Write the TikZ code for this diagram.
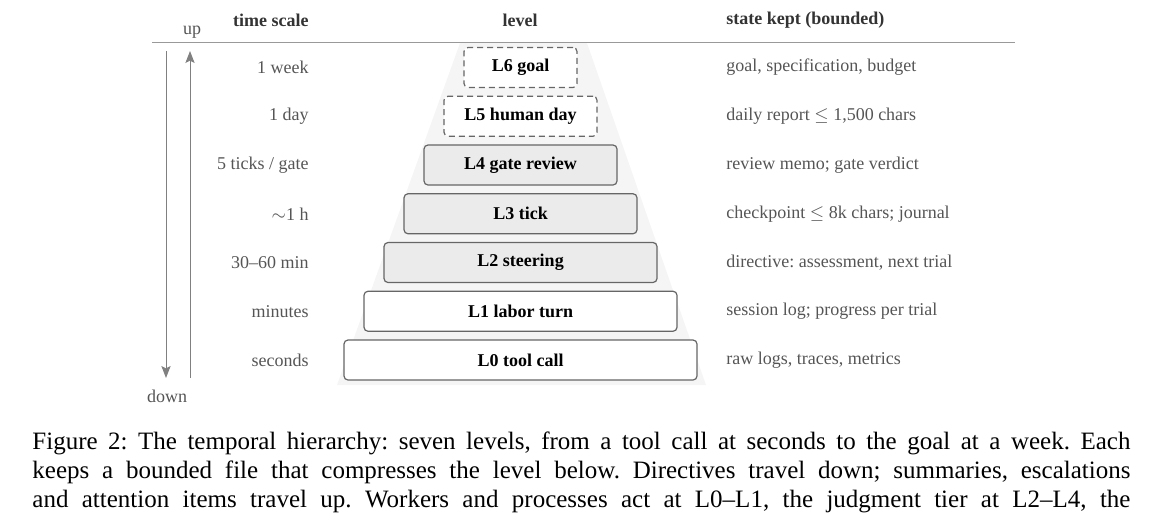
\documentclass[tikz,border=0pt]{standalone}
\usepackage{fontspec}
\setmainfont{Liberation Serif}
\usetikzlibrary{arrows.meta}
\definecolor{txtgray}{HTML}{555555}
\definecolor{hdrgray}{HTML}{333333}
\definecolor{linegray}{HTML}{808080}
\definecolor{rulegray}{HTML}{999999}
\definecolor{boxline}{HTML}{666666}
\definecolor{boxfill}{HTML}{EBEBEB}
\definecolor{trapfill}{HTML}{F5F5F5}
\frenchspacing
\begin{document}
\begin{tikzpicture}[x=0.5pt,y=-0.5pt,
  font=\fontsize{9}{11}\selectfont,
  lvl/.style={draw=boxline, line width=0.6pt, rounded corners=2pt, minimum height=20pt,
    inner sep=0pt, font=\fontsize{9}{11}\selectfont\bfseries, text=black},
  solidlvl/.style={lvl, fill=white},
  graylvl/.style={lvl, fill=boxfill},
  dashlvl/.style={lvl, fill=white, dash pattern=on 3pt off 2pt},
  tscale/.style={anchor=east, inner sep=0pt, text=txtgray},
  statetxt/.style={anchor=west, inner sep=0pt, text=txtgray},
  hdr/.style={inner sep=0pt, font=\fontsize{9}{11}\selectfont\bfseries, text=hdrgray},
  dirlbl/.style={inner sep=0pt, text=txtgray},
  flow/.style={draw=linegray, line width=0.5pt, -{Stealth[length=6pt,width=4.6pt,inset=1.2pt]}},
  captxt/.style={anchor=base west, inner sep=0pt, font=\fontsize{12.5}{14.5}\selectfont, text=black}
]
\useasboundingbox (0,0) rectangle (1160,515);

% background trapezoid
\fill[trapfill] (460,43) -- (587,43) -- (706,385) -- (337,385) -- cycle;

% header
\node[hdr, anchor=east] (hts) at (309,20) {time scale};
\node[hdr] (hlv) at (520,20) {level};
\node[hdr, anchor=west] (hst) at (726,20) {state kept (bounded)};
\draw[rulegray, line width=0.5pt] (152,42) -- (1015,42);

% levels
\node[dashlvl,  minimum width=56.5pt]  (L6) at (520.5,67.5)  {L6 goal};
\node[dashlvl,  minimum width=76.5pt]  (L5) at (520.5,116.25) {L5 human day};
\node[graylvl,  minimum width=96.5pt]  (L4) at (520.5,165)   {L4 gate review};
\node[graylvl,  minimum width=116.5pt] (L3) at (520.5,213.75) {L3 tick};
\node[graylvl,  minimum width=136.5pt] (L2) at (520.5,262.5) {L2 steering};
\node[solidlvl, minimum width=156.5pt] (L1) at (520.5,311.25) {L1 labor turn};
\node[solidlvl, minimum width=176.5pt] (L0) at (520.5,360)   {L0 tool call};

% time scales
\node[tscale] (t6) at (309,67.5)  {1 week};
\node[tscale] (t5) at (309,116.25) {1 day};
\node[tscale] (t4) at (309,165)   {5 ticks / gate};
\node[tscale] (t3) at (309,213.75) {$\sim$1 h};
\node[tscale] (t2) at (309,262.5) {30--60 min};
\node[tscale] (t1) at (309,311.25) {minutes};
\node[tscale] (t0) at (309,360)   {seconds};

% state kept
\node[statetxt] (s6) at (726,67.5)  {goal, specification, budget};
\node[statetxt] (s5) at (726,116.25) {daily report $\leq$ 1,500 chars};
\node[statetxt] (s4) at (726,165)   {review memo; gate verdict};
\node[statetxt] (s3) at (726,213.75) {checkpoint $\leq$ 8k chars; journal};
\node[statetxt] (s2) at (726,262.5) {directive: assessment, next trial};
\node[statetxt] (s1) at (726,311.25) {session log; progress per trial};
\node[statetxt] (s0) at (726,360)   {raw logs, traces, metrics};

% direction arrows
\coordinate (dtop) at (166,51);
\coordinate (dbot) at (166,378);
\coordinate (ubot) at (190,378);
\coordinate (utop) at (190,51);
\draw[flow] (dtop) -- (dbot);
\draw[flow] (ubot) -- (utop);
\node[dirlbl] (uplbl) at (192,32) {up};
\node[dirlbl] (downlbl) at (167,396) {down};

% caption
\node[captxt] (cap1) at (32,449) {\makebox[549pt][s]{Figure 2: The temporal hierarchy: seven levels, from a tool call at seconds to the goal at a week. Each}};
\node[captxt] (cap2) at (32,478) {\makebox[549pt][s]{keeps a bounded file that compresses the level below. Directives travel down; summaries, escalations}};
\node[captxt] (cap3) at (32,507) {\makebox[549pt][s]{and attention items travel up. Workers and processes act at L0--L1, the judgment tier at L2--L4, the}};
\end{tikzpicture}
\end{document}
